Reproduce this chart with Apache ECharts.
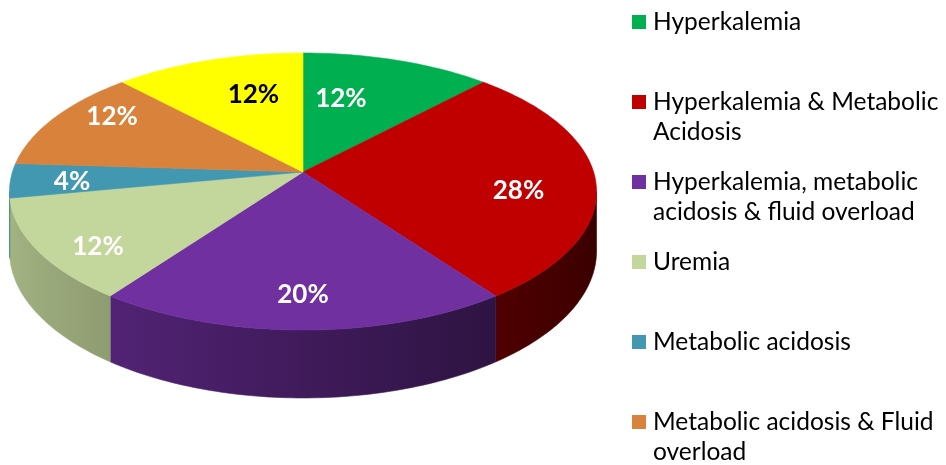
<!DOCTYPE html>
<html>
<head>
<meta charset="utf-8">
<script src="https://cdn.jsdelivr.net/npm/echarts@6/dist/echarts.min.js"></script>
<style>
  html, body { margin: 0; padding: 0; background: #ffffff; }
  #chart { width: 946px; height: 465px; }
</style>
</head>
<body>
<div id="chart"></div>
<script>
// Indications for dialysis, share of patients (%)
const categories = [
  'Hyperkalemia',
  'Hyperkalemia & Metabolic Acidosis',
  'Hyperkalemia, metabolic acidosis & fluid overload',
  'Uremia',
  'Metabolic acidosis',
  'Metabolic acidosis & Fluid overload',
  'Others'
];
// Legend text as it wraps in the legend column
const legendLabels = [
  'Hyperkalemia',
  'Hyperkalemia & Metabolic\nAcidosis',
  'Hyperkalemia, metabolic\nacidosis & fluid overload',
  'Uremia',
  'Metabolic acidosis',
  'Metabolic acidosis & Fluid\noverload',
  'Others'
];
const percentages = [12, 28, 20, 12, 4, 12, 12];

const sliceColors = ['#00b050', '#c00000', '#7030a0', '#c3d69b', '#4298b0', '#d8823c', '#ffff00'];
const labelColors = ['#ffffff', '#ffffff', '#ffffff', '#ffffff', '#ffffff', '#ffffff', '#000000'];
// Label placement inside each slice: fraction of the radius, angular nudge in degrees
const labelRadius = [0.60, 0.74, 0.80, 0.83, 0.79, 0.82, 0.65];
const labelNudge = [-8, 7, 0, -5.5, -1.7, 6.6, 5];

// Tilted-disc projection of the pie
const CX = 303, CY = 172;      // screen position of the pie centre
const RX = 290.6, RY = 135.75; // horizontal / vertical radii of the top face
const PERSP = 0.1408;          // perspective foreshortening (far edge smaller)
const DEPTH = 58.4;            // thickness of the disc
const STEP = Math.PI / 180;

const total = percentages.reduce((s, v) => s + v, 0);
const startAngles = [];
percentages.reduce((acc, v, i) => { startAngles[i] = acc / total * 2 * Math.PI; return acc + v; }, 0);

function project(theta, r, drop) {
  const u = r * Math.sin(theta), v = r * Math.cos(theta);
  const w = 1 + PERSP * v;
  return [CX + RX * u / w, CY + (-RY * v + (drop || 0)) / w];
}
function arc(a0, a1, drop) {
  const n = Math.max(2, Math.ceil((a1 - a0) / STEP));
  const pts = [];
  for (let j = 0; j <= n; j++) pts.push(project(a0 + (a1 - a0) * j / n, 1, drop));
  return pts;
}
function shade(hex, f) {
  const c = parseInt(hex.slice(1), 16);
  const r = Math.round(((c >> 16) & 255) * f), g = Math.round(((c >> 8) & 255) * f), b = Math.round((c & 255) * f);
  return 'rgb(' + r + ',' + g + ',' + b + ')';
}
// Side wall brightness: lit from the left, darker toward the right
function wallFactor(theta) { return 0.57 - 0.272 * Math.sin(theta); }

// Only the front part of the outer wall faces the viewer
const wallFrom = Math.acos(-PERSP), wallTo = 2 * Math.PI - Math.acos(-PERSP);

function makeRender(i) {
  return function (params, api) {
    const a0 = startAngles[i];
    const a1 = a0 + api.value(0) / total * 2 * Math.PI;
    const children = [];

    const topPts = [project(0, 0, 0)].concat(arc(a0, a1, 0));
    children.push({
      type: 'polygon', z2: 10,
      shape: { points: topPts },
      style: { fill: sliceColors[i], stroke: sliceColors[i], lineWidth: 0.6 }
    });

    const b0 = Math.max(a0, wallFrom), b1 = Math.min(a1, wallTo);
    if (b1 > b0) {
      const upper = arc(b0, b1, 0);
      const lower = arc(b0, b1, DEPTH).reverse();
      const xs = upper.map(p => p[0]);
      const xMin = Math.min.apply(null, xs), xMax = Math.max.apply(null, xs);
      const stops = [];
      for (let j = 0; j <= 8; j++) {
        const t = b0 + (b1 - b0) * j / 8;
        const x = project(t, 1, 0)[0];
        stops.push({ offset: xMax > xMin ? (x - xMin) / (xMax - xMin) : 0, color: shade(sliceColors[i], wallFactor(t)) });
      }
      stops.sort((p, q) => p.offset - q.offset);
      const grad = new echarts.graphic.LinearGradient(xMin, 0, xMax, 0, stops, true);
      children.push({
        type: 'polygon', z2: 0,
        shape: { points: upper.concat(lower) },
        style: { fill: grad, stroke: grad, lineWidth: 0.6 }
      });
    }

    const mid = (a0 + a1) / 2 + labelNudge[i] * STEP;
    const lp = project(mid, labelRadius[i], 0);
    children.push({
      type: 'text', z2: 20,
      style: {
        text: api.value(0) + '%',
        x: lp[0], y: lp[1],
        fill: labelColors[i],
        font: 'bold 26px Lato',
        align: 'center', verticalAlign: 'middle'
      }
    });
    return { type: 'group', children: children };
  };
}

const LEGEND_X = 632, LEGEND_FIRST = 22, LEGEND_STEP = 80, LINE_H = 30;

// Each legend entry keeps its first text line level with its marker:
// wrapped entries get a blank leading line so the first line sits in the middle.
const legendText = legendLabels.map(t => t.indexOf('\n') >= 0 ? '\n' + t : t);

const option = {
  backgroundColor: '#ffffff',
  animation: false,
  legend: categories.map((name, i) => {
    const lines = legendText[i].split('\n').length;
    return {
      data: [name],
      left: LEGEND_X,
      top: LEGEND_FIRST + i * LEGEND_STEP - lines * LINE_H / 2,
      padding: 0,
      orient: 'vertical',
      icon: 'rect',
      itemWidth: 14, itemHeight: 14,
      selectedMode: false,
      formatter: () => legendText[i],
      textStyle: {
        fontFamily: 'Lato', fontSize: 24.5, color: '#000000',
        lineHeight: LINE_H,
        padding: [0, 0, 0, 2]
      }
    };
  }),
  series: categories.map((name, i) => ({
    type: 'custom',
    name: name,
    coordinateSystem: 'none',
    itemStyle: { color: sliceColors[i] },
    data: [percentages[i]],
    renderItem: makeRender(i)
  }))
};

echarts.init(document.getElementById('chart'), null, { renderer: 'canvas' }).setOption(option);
</script>
</body>
</html>
